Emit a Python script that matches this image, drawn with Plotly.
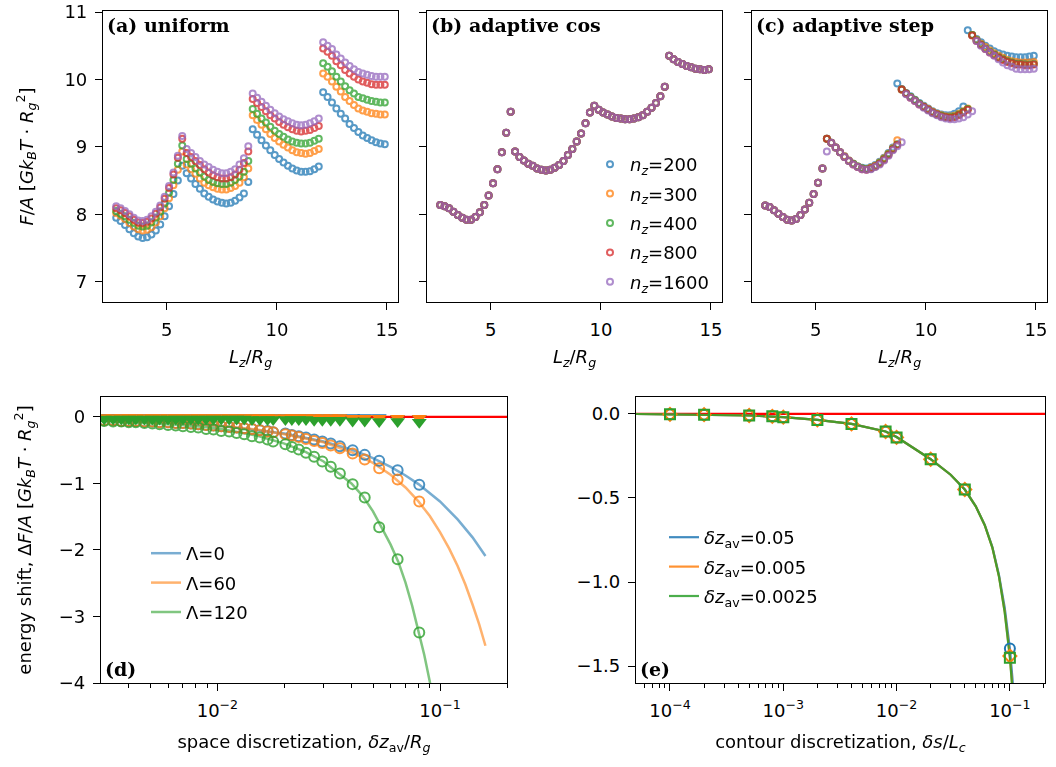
import plotly.graph_objects as go

# ---------------- data ----------------
LZ = [2.7, 2.9, 3.1, 3.3, 3.5, 3.7, 3.9, 4.1, 4.3, 4.5, 4.7, 4.9, 5.1, 5.3, 5.5, 5.7,
      5.9, 6.1, 6.3, 6.5, 6.7, 6.9, 7.1, 7.3, 7.5, 7.7, 7.9, 8.1, 8.3, 8.5, 8.7,
      8.9, 9.1, 9.3, 9.5, 9.7, 9.9, 10.1, 10.3, 10.5, 10.7, 10.9, 11.1, 11.3, 11.5, 11.7, 11.9,
      12.1, 12.3, 12.5, 12.7, 12.9, 13.1, 13.3, 13.5, 13.7, 13.9, 14.1, 14.3, 14.5, 14.7, 14.9]

NZ = [200, 300, 400, 800, 1600]

# (a) uniform
UNI_200 = [7.95, 7.90, 7.84, 7.78, 7.72, 7.67, 7.65, 7.66, 7.70, 7.76, 7.85, 7.97, 8.12, 8.30, 8.50, 8.72,
           8.61, 8.53, 8.45, 8.38, 8.31, 8.26, 8.22, 8.19, 8.17, 8.16, 8.17, 8.20, 8.25, 8.31, 8.48,
           9.26, 9.18, 9.10, 9.02, 8.95, 8.88, 8.82, 8.77, 8.72, 8.68, 8.65, 8.63, 8.63, 8.64, 8.67, 8.71,
           9.81, 9.74, 9.66, 9.57, 9.49, 9.42, 9.34, 9.28, 9.22, 9.17, 9.13, 9.10, 9.07, 9.05, 9.04]
UNI_300 = [8.02, 7.98, 7.93, 7.87, 7.82, 7.78, 7.76, 7.77, 7.81, 7.88, 7.97, 8.09, 8.24, 8.43, 8.66, 8.93,
           8.74, 8.67, 8.60, 8.53, 8.47, 8.43, 8.40, 8.38, 8.37, 8.37, 8.39, 8.42, 8.47, 8.55, 8.68,
           9.47, 9.40, 9.33, 9.26, 9.19, 9.13, 9.08, 9.03, 8.99, 8.95, 8.92, 8.91, 8.90, 8.91, 8.94, 8.97,
           10.09, 10.04, 9.97, 9.89, 9.82, 9.74, 9.68, 9.62, 9.57, 9.54, 9.52, 9.50, 9.49, 9.48, 9.48]
UNI_400 = [8.05, 8.01, 7.97, 7.92, 7.87, 7.83, 7.82, 7.83, 7.88, 7.95, 8.04, 8.16, 8.32, 8.51, 8.75, 9.02,
           8.82, 8.75, 8.68, 8.62, 8.56, 8.51, 8.48, 8.46, 8.45, 8.45, 8.47, 8.51, 8.56, 8.63, 8.79,
           9.56, 9.49, 9.42, 9.36, 9.30, 9.24, 9.19, 9.15, 9.11, 9.08, 9.06, 9.05, 9.05, 9.06, 9.09, 9.12,
           10.24, 10.19, 10.12, 10.04, 9.97, 9.90, 9.84, 9.79, 9.74, 9.72, 9.70, 9.68, 9.67, 9.66, 9.66]
UNI_800 = [8.09, 8.06, 8.02, 7.97, 7.92, 7.88, 7.87, 7.89, 7.94, 8.01, 8.10, 8.23, 8.39, 8.59, 8.84, 9.12,
           8.91, 8.85, 8.79, 8.73, 8.67, 8.62, 8.58, 8.55, 8.53, 8.53, 8.55, 8.59, 8.66, 8.76, 8.93,
           9.71, 9.65, 9.59, 9.53, 9.47, 9.42, 9.37, 9.33, 9.29, 9.26, 9.24, 9.23, 9.24, 9.25, 9.28, 9.31,
           10.46, 10.41, 10.35, 10.27, 10.21, 10.14, 10.09, 10.04, 10.00, 9.97, 9.95, 9.93, 9.92, 9.92, 9.92]
UNI_1600 = [8.12, 8.09, 8.05, 8.00, 7.95, 7.91, 7.90, 7.92, 7.97, 8.04, 8.13, 8.26, 8.42, 8.62, 8.87, 9.16,
            8.97, 8.91, 8.85, 8.79, 8.74, 8.70, 8.66, 8.63, 8.61, 8.61, 8.63, 8.67, 8.74, 8.83, 9.01,
            9.79, 9.73, 9.67, 9.61, 9.55, 9.50, 9.45, 9.41, 9.38, 9.35, 9.33, 9.32, 9.33, 9.35, 9.38, 9.42,
            10.55, 10.50, 10.45, 10.37, 10.31, 10.25, 10.20, 10.15, 10.11, 10.09, 10.07, 10.05, 10.04, 10.04, 10.04]

# (b) adaptive cos (all n_z coincide)
COS_ALL = [8.14, 8.12, 8.09, 8.04, 7.99, 7.95, 7.92, 7.92, 7.96, 8.03, 8.14, 8.28, 8.46, 8.67, 8.92, 9.21, 9.52,
           8.93, 8.85, 8.80, 8.75, 8.72, 8.68, 8.66, 8.65, 8.66, 8.69, 8.73, 8.79, 8.88, 8.97, 9.08, 9.20, 9.35, 9.51,
           9.61, 9.55, 9.51, 9.48, 9.45, 9.43, 9.42, 9.41, 9.41, 9.42, 9.44, 9.47, 9.52, 9.58, 9.65, 9.75, 9.89,
           10.35, 10.30, 10.26, 10.23, 10.20, 10.18, 10.16, 10.15, 10.14, 10.15]

# (c) adaptive step
STEP_200 = [8.13, 8.11, 8.06, 8.01, 7.96, 7.92, 7.91, 7.93, 7.99, 8.07, 8.17, 8.30, 8.47, 8.68,
            9.12,
            9.06, 8.99, 8.92, 8.86, 8.80, 8.75, 8.71, 8.69, 8.68, 8.70, 8.73, 8.78, 8.84, 8.91, 8.99,
            9.94, 9.86,
            9.80, 9.75, 9.70, 9.65, 9.61, 9.57, 9.53, 9.50, 9.48, 9.47, 9.47, 9.49, 9.53, 9.60,
            10.73, 10.66, 10.60, 10.55, 10.50, 10.46, 10.42, 10.39, 10.37, 10.35, 10.34, 10.33, 10.33, 10.33, 10.34, 10.35]
STEP_300 = [8.13, 8.11, 8.06, 8.01, 7.96, 7.92, 7.91, 7.93, 7.99, 8.07, 8.17, 8.30, 8.47, 8.68,
            9.12,
            9.06, 8.99, 8.92, 8.86, 8.80, 8.75, 8.71, 8.68, 8.67, 8.69, 8.72, 8.77, 8.83, 8.90, 8.98,
            9.10, 9.85,
            9.79, 9.74, 9.69, 9.64, 9.60, 9.56, 9.52, 9.49, 9.47, 9.45, 9.45, 9.46, 9.49, 9.53, 9.57,
            10.66, 10.59, 10.53, 10.48, 10.43, 10.39, 10.35, 10.32, 10.29, 10.27, 10.26, 10.25, 10.25, 10.25, 10.26]
STEP_400 = [8.13, 8.11, 8.06, 8.01, 7.96, 7.92, 7.91, 7.93, 7.99, 8.07, 8.17, 8.30, 8.47, 8.68,
            9.12,
            9.06, 8.99, 8.92, 8.85, 8.79, 8.75, 8.71, 8.68, 8.67, 8.68, 8.71, 8.76, 8.82, 8.89, 8.97,
            9.04, 9.85,
            9.79, 9.74, 9.69, 9.64, 9.59, 9.55, 9.51, 9.48, 9.46, 9.44, 9.44, 9.45, 9.48, 9.52, 9.56,
            10.66, 10.58, 10.52, 10.46, 10.41, 10.37, 10.33, 10.30, 10.27, 10.25, 10.23, 10.23, 10.22, 10.22, 10.23]
STEP_800 = [8.13, 8.11, 8.06, 8.01, 7.96, 7.92, 7.91, 7.93, 7.99, 8.07, 8.17, 8.30, 8.47, 8.68,
            9.12,
            9.06, 8.99, 8.92, 8.85, 8.79, 8.74, 8.70, 8.67, 8.66, 8.68, 8.71, 8.75, 8.81, 8.88, 8.96,
            9.03, 9.85,
            9.79, 9.73, 9.68, 9.63, 9.59, 9.55, 9.51, 9.48, 9.45, 9.44, 9.43, 9.44, 9.47, 9.51, 9.55,
            10.65, 10.57, 10.51, 10.45, 10.40, 10.36, 10.32, 10.29, 10.26, 10.24, 10.22, 10.22, 10.21, 10.21, 10.22]
STEP_1600 = [8.13, 8.11, 8.06, 8.01, 7.96, 7.92, 7.91, 7.93, 7.99, 8.07, 8.17, 8.30, 8.47, 8.68,
             8.93,
             9.06, 8.99, 8.92, 8.85, 8.79, 8.74, 8.70, 8.67, 8.66, 8.67, 8.70, 8.74, 8.80, 8.87, 8.95,
             9.01, 9.07,
             9.78, 9.73, 9.68, 9.63, 9.58, 9.54, 9.50, 9.47, 9.44, 9.42, 9.41, 9.41, 9.42, 9.44, 9.48, 9.53,
             10.57, 10.50, 10.45, 10.40, 10.35, 10.30, 10.25, 10.21, 10.19, 10.16, 10.15, 10.15, 10.15, 10.16]

# (d) energy shift vs space discretization
LAMBDAS = [0, 60, 120]
DZ = [0.0031, 0.0034, 0.0037, 0.0040, 0.0043, 0.0047, 0.0051, 0.0055, 0.0060, 0.0065, 0.0070, 0.0076,
      0.0082, 0.0089, 0.0096, 0.0104, 0.0113, 0.0122, 0.0132, 0.0143, 0.0155, 0.0168, 0.0178, 0.0202,
      0.0216, 0.0232, 0.0250, 0.0272, 0.0296, 0.0323, 0.0355, 0.0405, 0.0459, 0.0533, 0.0645, 0.0807]
DF_L0 = [-0.05, -0.05, -0.06, -0.06, -0.06, -0.07, -0.07, -0.08, -0.08, -0.09, -0.09, -0.10,
         -0.11, -0.12, -0.13, -0.14, -0.15, -0.16, -0.17, -0.18, -0.20, -0.21, -0.23, -0.25,
         -0.27, -0.29, -0.31, -0.34, -0.37, -0.40, -0.44, -0.50, -0.57, -0.66, -0.80, -1.02]
DF_L60 = [-0.05, -0.05, -0.06, -0.06, -0.06, -0.07, -0.07, -0.08, -0.08, -0.09, -0.09, -0.10,
          -0.11, -0.12, -0.13, -0.14, -0.15, -0.16, -0.17, -0.18, -0.20, -0.22, -0.23, -0.26,
          -0.28, -0.30, -0.33, -0.36, -0.39, -0.43, -0.47, -0.55, -0.64, -0.77, -0.94, -1.27]
DF_L120 = [-0.06, -0.07, -0.07, -0.08, -0.08, -0.09, -0.10, -0.11, -0.12, -0.13, -0.14, -0.15,
           -0.16, -0.18, -0.19, -0.21, -0.22, -0.24, -0.26, -0.29, -0.31, -0.34, -0.37, -0.41,
           -0.45, -0.49, -0.54, -0.60, -0.67, -0.75, -0.85, -1.01, -1.21, -1.66, -2.14, -3.24]
# adaptive-grid shifts (triangles)
DFA_L0 = [-0.01, -0.01, -0.01, -0.01, -0.01, -0.01, -0.01, -0.01, -0.01, -0.01, -0.01, -0.01,
          -0.01, -0.01, -0.01, -0.01, -0.01, -0.01, -0.01, -0.01, -0.01, -0.01, -0.01, -0.01,
          -0.01, -0.01, -0.01, -0.01, -0.01, -0.01, -0.01, -0.01, -0.01, -0.01, -0.02, -0.02]
DFA_L60 = [-0.01, -0.01, -0.01, -0.01, -0.01, -0.01, -0.01, -0.01, -0.01, -0.01, -0.01, -0.01,
           -0.01, -0.01, -0.01, -0.01, -0.01, -0.01, -0.01, -0.01, -0.01, -0.01, -0.01, -0.01,
           -0.01, -0.01, -0.01, -0.01, -0.01, -0.01, -0.01, -0.02, -0.02, -0.02, -0.02, -0.02]
DFA_L120 = [-0.03, -0.03, -0.03, -0.03, -0.03, -0.03, -0.03, -0.03, -0.03, -0.03, -0.03, -0.03,
            -0.03, -0.03, -0.03, -0.03, -0.03, -0.03, -0.03, -0.04, -0.04, -0.04, -0.04, -0.04,
            -0.04, -0.04, -0.04, -0.05, -0.05, -0.05, -0.05, -0.06, -0.06, -0.07, -0.07, -0.08]
# fitted curves
FIT0_X = [0.003, 0.005, 0.01, 0.02, 0.03, 0.04, 0.05, 0.06, 0.07, 0.08, 0.1, 0.12, 0.14, 0.16]
FIT0_Y = [-0.05, -0.07, -0.13, -0.25, -0.37, -0.49, -0.62, -0.75, -0.88, -1.01, -1.27, -1.54, -1.81, -2.09]
FIT60_X = [0.003, 0.005, 0.01, 0.015, 0.02, 0.03, 0.04, 0.05, 0.06, 0.07, 0.08, 0.09, 0.1, 0.11, 0.12, 0.13, 0.14, 0.15, 0.16]
FIT60_Y = [-0.05, -0.07, -0.13, -0.19, -0.26, -0.38, -0.53, -0.69, -0.87, -1.06, -1.27, -1.49, -1.73, -1.98, -2.24, -2.52, -2.82, -3.12, -3.44]
FIT120_X = [0.003, 0.005, 0.007, 0.01, 0.015, 0.02, 0.025, 0.03, 0.035, 0.04, 0.045, 0.05, 0.055,
            0.06, 0.065, 0.07, 0.075, 0.08, 0.085, 0.09, 0.095]
FIT120_Y = [-0.06, -0.09, -0.12, -0.17, -0.28, -0.40, -0.53, -0.67, -0.84, -1.00, -1.19, -1.42, -1.68,
            -1.92, -2.18, -2.49, -2.84, -3.20, -3.58, -3.98, -4.45]

# (e) energy shift vs contour discretization
DZAV = ["0.05", "0.005", "0.0025"]
DS = [1e-4, 2e-4, 5e-4, 8e-4, 1e-3, 2e-3, 4e-3, 8e-3, 1e-2, 2e-2, 4e-2, 1e-1]
DFS_005 = [-0.003, -0.005, -0.010, -0.015, -0.020, -0.036, -0.060, -0.105, -0.140, -0.270, -0.450, -1.395]
DFS_0005 = [-0.003, -0.005, -0.010, -0.015, -0.020, -0.036, -0.060, -0.105, -0.140, -0.270, -0.450, -1.440]
DFS_00025 = [-0.003, -0.005, -0.010, -0.015, -0.020, -0.036, -0.060, -0.105, -0.140, -0.270, -0.450, -1.450]
FITS_X = [5e-5, 1e-4, 2e-4, 5e-4, 1e-3, 2e-3, 4e-3, 8e-3, 1e-2, 2e-2, 3e-2, 4e-2, 5e-2, 6e-2, 7e-2, 8e-2, 9e-2, 0.1, 0.105, 0.11]
FITS_005 = [-0.001, -0.003, -0.005, -0.010, -0.020, -0.036, -0.060, -0.105, -0.138, -0.270, -0.362, -0.450, -0.550, -0.660, -0.790, -0.955, -1.150, -1.395, -1.560, -1.750]
FITS_0005 = [-0.001, -0.003, -0.005, -0.010, -0.020, -0.036, -0.060, -0.105, -0.138, -0.270, -0.362, -0.450, -0.550, -0.662, -0.795, -0.965, -1.175, -1.440, -1.620, -1.820]
FITS_00025 = [-0.001, -0.003, -0.005, -0.010, -0.020, -0.036, -0.060, -0.105, -0.138, -0.270, -0.362, -0.450, -0.550, -0.662, -0.795, -0.965, -1.180, -1.450, -1.630, -1.830]

# tick positions / labels for the log axes
MAJOR_D = [0.01, 0.1]
MAJOR_D_TEXT = ["10<sup>−2</sup>", "10<sup>−1</sup>"]
MINOR_D = [0.004, 0.005, 0.006, 0.007, 0.008, 0.009,
           0.02, 0.03, 0.04, 0.05, 0.06, 0.07, 0.08, 0.09, 0.2]
MAJOR_E = [1e-4, 1e-3, 1e-2, 1e-1]
MAJOR_E_TEXT = ["10<sup>−4</sup>", "10<sup>−3</sup>", "10<sup>−2</sup>", "10<sup>−1</sup>"]
MINOR_E = [6e-5, 7e-5, 8e-5, 9e-5,
           2e-4, 3e-4, 4e-4, 5e-4, 6e-4, 7e-4, 8e-4, 9e-4,
           2e-3, 3e-3, 4e-3, 5e-3, 6e-3, 7e-3, 8e-3, 9e-3,
           2e-2, 3e-2, 4e-2, 5e-2, 6e-2, 7e-2, 8e-2, 9e-2, 2e-1]

# ---------------- styling ----------------
COLORS = ["#1f77b4", "#ff7f0e", "#2ca02c", "#d62728", "#9467bd"]
FONT = "DejaVu Sans"
FS = 18
W, H = 1056, 767


def px_x(a, b):
    return [a / W, b / W]


def px_y(top, bottom):
    return [1 - bottom / H, 1 - top / H]


fig = go.Figure()

top_sets = [
    ([UNI_200, UNI_300, UNI_400, UNI_800, UNI_1600], "x", "y"),
    ([COS_ALL, COS_ALL, COS_ALL, COS_ALL, COS_ALL], "x2", "y2"),
    ([STEP_200, STEP_300, STEP_400, STEP_800, STEP_1600], "x3", "y3"),
]
for p, (series, xa, ya) in enumerate(top_sets):
    for i, ys in enumerate(series):
        fig.add_trace(go.Scatter(
            x=LZ, y=ys, mode="markers", xaxis=xa, yaxis=ya,
            marker=dict(symbol="circle-open", size=6, color=COLORS[i],
                        line=dict(width=2, color=COLORS[i])),
            opacity=0.75,
            name=f"<i>n</i><sub><i>z</i></sub>={NZ[i]}",
            showlegend=(p == 1), legend="legend",
            legendgroup=f"nz{i}",
        ))

# (d)
fits_d = [(FIT0_X, FIT0_Y), (FIT60_X, FIT60_Y), (FIT120_X, FIT120_Y)]
circ_d = [DF_L0, DF_L60, DF_L120]
tri_d = [DFA_L0, DFA_L60, DFA_L120]
for i in range(3):
    fig.add_trace(go.Scatter(
        x=fits_d[i][0], y=fits_d[i][1], mode="lines", xaxis="x4", yaxis="y4",
        line=dict(color=COLORS[i], width=2.5), opacity=0.6,
        name=f"Λ={LAMBDAS[i]}", legend="legend2", legendgroup=f"L{i}",
    ))
for i in range(3):
    fig.add_trace(go.Scatter(
        x=DZ, y=circ_d[i], mode="markers", xaxis="x4", yaxis="y4",
        marker=dict(symbol="circle-open", size=10, color=COLORS[i], line=dict(width=2, color=COLORS[i])),
        opacity=0.8, showlegend=False,
    ))
for i in range(3):
    fig.add_trace(go.Scatter(
        x=DZ, y=tri_d[i], mode="markers", xaxis="x4", yaxis="y4",
        marker=dict(symbol="triangle-down", size=13, color=COLORS[i], line=dict(width=0)),
        showlegend=False,
    ))

# (e)
fits_e = [FITS_005, FITS_0005, FITS_00025]
pts_e = [DFS_005, DFS_0005, DFS_00025]
sym_e = ["circle-open", "diamond-open", "square-open"]
for i in range(3):
    fig.add_trace(go.Scatter(
        x=FITS_X, y=fits_e[i], mode="lines", xaxis="x5", yaxis="y5",
        line=dict(color=COLORS[i], width=2.2), opacity=0.85,
        name=f"<i>δz</i><sub>av</sub>={DZAV[i]}", legend="legend3", legendgroup=f"D{i}",
    ))
for i in range(3):
    fig.add_trace(go.Scatter(
        x=DS, y=pts_e[i], mode="markers", xaxis="x5", yaxis="y5",
        marker=dict(symbol=sym_e[i], size=10, color=COLORS[i], line=dict(width=2, color=COLORS[i])),
        showlegend=False,
    ))

axis_common = dict(
    showline=True, mirror=True, linecolor="black", linewidth=1.2,
    ticks="outside", ticklen=7, tickwidth=1.2, tickcolor="black",
    showgrid=False, zeroline=False, automargin=False,
    tickfont=dict(family=FONT, size=FS, color="black"),
    ticklabelstandoff=4, ticklabeloverflow="allow",
)

LZ_TITLE = "<i>L</i><sub><i>z</i></sub>/<i>R</i><sub><i>g</i></sub>"
UNIT = "[<i>Gk</i><sub><i>B</i></sub><i>T</i> · <i>R</i><sub><i>g</i></sub><sup>2</sup>]"

top_dom_y = px_y(11, 302)
bot_dom_y = px_y(397, 683)

minor_d = dict(tickmode="array", tickvals=MINOR_D, ticks="outside", ticklen=4, tickwidth=1,
               tickcolor="black", showgrid=False)
minor_e = dict(tickmode="array", tickvals=MINOR_E, ticks="outside", ticklen=4, tickwidth=1,
               tickcolor="black", showgrid=False)

layout = dict(
    width=W, height=H, margin=dict(l=0, r=0, t=0, b=0),
    paper_bgcolor="white", plot_bgcolor="white",
    font=dict(family=FONT, size=FS, color="black"),
    xaxis=dict(axis_common, domain=px_x(103, 398), range=[2.1, 15.5], anchor="y",
               tickvals=[5, 10, 15], title=dict(text=LZ_TITLE, standoff=11, font=dict(size=FS))),
    yaxis=dict(axis_common, domain=top_dom_y, range=[6.7, 11.015], anchor="x",
               tickvals=[7, 8, 9, 10, 11],
               title=dict(text="<i>F</i>/<i>A</i> " + UNIT, standoff=26, font=dict(size=FS))),
    xaxis2=dict(axis_common, domain=px_x(427, 722), range=[2.1, 15.5], anchor="y2",
                tickvals=[5, 10, 15], title=dict(text=LZ_TITLE, standoff=11, font=dict(size=FS))),
    yaxis2=dict(axis_common, domain=top_dom_y, range=[6.7, 11.015], anchor="x2",
                tickvals=[7, 8, 9, 10, 11], showticklabels=False),
    xaxis3=dict(axis_common, domain=px_x(752, 1047), range=[2.1, 15.5], anchor="y3",
                tickvals=[5, 10, 15], title=dict(text=LZ_TITLE, standoff=11, font=dict(size=FS))),
    yaxis3=dict(axis_common, domain=top_dom_y, range=[6.7, 11.015], anchor="x3",
                tickvals=[7, 8, 9, 10, 11], showticklabels=False),
    xaxis4=dict(axis_common, domain=px_x(101, 507), type="log", range=[-2.523, -0.699], anchor="y4",
                tickmode="array", tickvals=MAJOR_D, ticktext=MAJOR_D_TEXT, minor=minor_d,
                title=dict(text="space discretization, <i>δz</i><sub>av</sub>/<i>R</i><sub><i>g</i></sub>",
                           standoff=15, font=dict(size=FS))),
    yaxis4=dict(axis_common, domain=bot_dom_y, range=[-4, 0.3], anchor="x4", tickvals=[0, -1, -2, -3, -4],
                title=dict(text="energy shift, Δ<i>F</i>/<i>A</i> " + UNIT, standoff=22, font=dict(size=FS))),
    xaxis5=dict(axis_common, domain=px_x(636, 1045), type="log", range=[-4.3, -0.69], anchor="y5",
                tickmode="array", tickvals=MAJOR_E, ticktext=MAJOR_E_TEXT, minor=minor_e,
                title=dict(text="contour discretization, <i>δs</i>/<i>L</i><sub><i>c</i></sub>",
                           standoff=15, font=dict(size=FS))),
    yaxis5=dict(axis_common, domain=bot_dom_y, range=[-1.6, 0.1], anchor="x5",
                tickvals=[0, -0.5, -1.0, -1.5], tickformat=".1f"),
    legend=dict(x=590 / W, y=1 - 146 / H, xanchor="left", yanchor="top", bgcolor="rgba(0,0,0,0)",
                font=dict(family=FONT, size=FS), tracegroupgap=3, itemwidth=30),
    legend2=dict(x=146 / W, y=1 - 535 / H, xanchor="left", yanchor="top", bgcolor="rgba(0,0,0,0)",
                 font=dict(family=FONT, size=FS), tracegroupgap=3),
    legend3=dict(x=664 / W, y=1 - 519 / H, xanchor="left", yanchor="top", bgcolor="rgba(0,0,0,0)",
                 font=dict(family=FONT, size=FS), tracegroupgap=3),
    shapes=[
        dict(type="line", xref="x4 domain", yref="y4", x0=0, x1=1, y0=0, y1=0,
             line=dict(color="red", width=2.2), layer="below"),
        dict(type="line", xref="x5 domain", yref="y5", x0=0, x1=1, y0=0, y1=0,
             line=dict(color="red", width=2.2), layer="below"),
    ],
    annotations=[
        dict(text="<b>(a) uniform</b>", xref="x domain", yref="y domain", x=0.008, y=0.995,
             xanchor="left", yanchor="top", showarrow=False, font=dict(family="DejaVu Serif", size=19)),
        dict(text="<b>(b) adaptive cos</b>", xref="x2 domain", yref="y2 domain", x=0.008, y=0.995,
             xanchor="left", yanchor="top", showarrow=False, font=dict(family="DejaVu Serif", size=19)),
        dict(text="<b>(c) adaptive step</b>", xref="x3 domain", yref="y3 domain", x=0.008, y=0.995,
             xanchor="left", yanchor="top", showarrow=False, font=dict(family="DejaVu Serif", size=19)),
        dict(text="<b>(d)</b>", xref="x4 domain", yref="y4 domain", x=0.005, y=0.005,
             xanchor="left", yanchor="bottom", showarrow=False, font=dict(family="DejaVu Serif", size=19)),
        dict(text="<b>(e)</b>", xref="x5 domain", yref="y5 domain", x=0.005, y=0.005,
             xanchor="left", yanchor="bottom", showarrow=False, font=dict(family="DejaVu Serif", size=19)),
    ],
)
fig.update_layout(**layout)

fig.write_html("out.html")
